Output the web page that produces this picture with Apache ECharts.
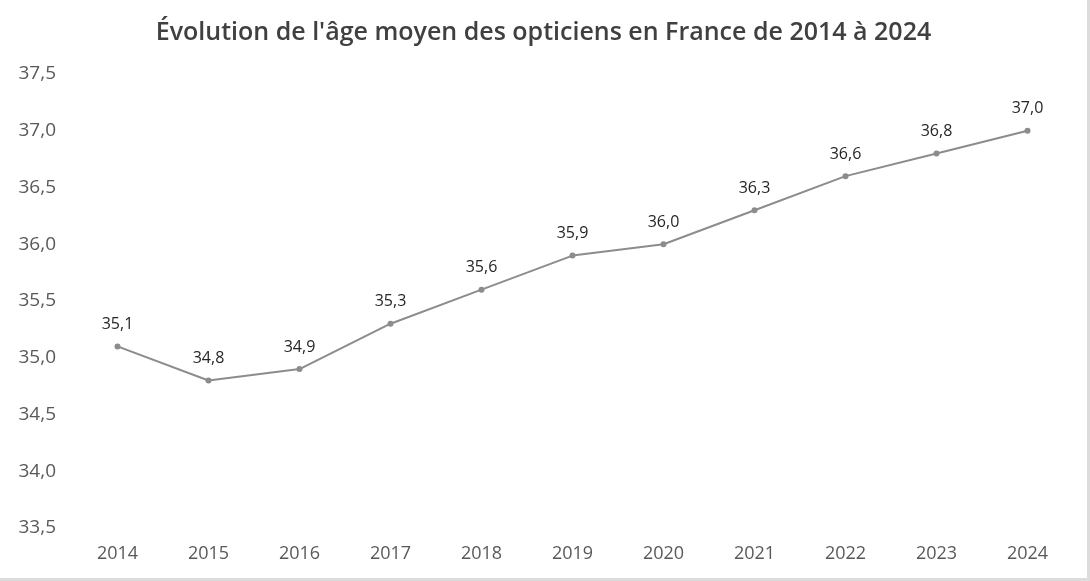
<!DOCTYPE html>
<html><head><meta charset="utf-8">
<script src="https://cdn.jsdelivr.net/npm/echarts@6/dist/echarts.min.js"></script>
<style>
html,body{margin:0;padding:0;background:#fff;}
#c{width:1087px;height:578px;border-right:3px solid #dcdcdc;border-bottom:3px solid #dcdcdc;}
</style></head>
<body><div id="c"></div>
<script>
const years = ['2014','2015','2016','2017','2018','2019','2020','2021','2022','2023','2024'];
const ages = [35.1,34.8,34.9,35.3,35.6,35.9,36.0,36.3,36.6,36.8,37.0];
const fmt = v => v.toFixed(1).replace('.', ',');
const chart = echarts.init(document.getElementById('c'));
chart.setOption({
  animation:false,
  title:{text:"Évolution de l'âge moyen des opticiens en France de 2014 à 2024",left:'center',top:15,
    textStyle:{fontFamily:'Open Sans',fontSize:25,fontWeight:'600',color:'#404040'}},
  grid:{left:72,right:14,top:74,bottom:50},
  xAxis:{type:'category',data:years,boundaryGap:true,
    axisLine:{show:false},axisTick:{show:false},
    axisLabel:{color:'#595959',fontFamily:'Open Sans',fontSize:18,margin:17}},
  yAxis:{type:'value',min:33.5,max:37.5,interval:0.5,
    splitLine:{show:false},axisLine:{show:false},axisTick:{show:false},
    axisLabel:{color:'#595959',fontFamily:'Open Sans',fontSize:19,margin:16,formatter:v=>fmt(v)}},
  series:[{type:'line',data:ages,symbol:'circle',symbolSize:6,
    lineStyle:{color:'#8c8c8c',width:2},itemStyle:{color:'#8c8c8c'},
    label:{show:true,position:'top',distance:11,color:'#262626',fontFamily:'Open Sans',fontSize:16,fontWeight:'500',formatter:p=>fmt(p.value)}}]
});
</script></body></html>
